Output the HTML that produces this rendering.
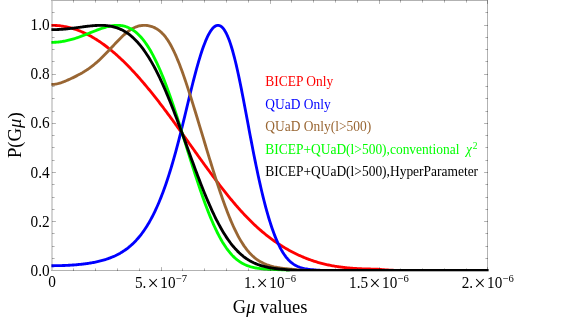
<!DOCTYPE html>
<html><head><meta charset="utf-8"><title>P(G&mu;) plot</title>
<style>
html,body{margin:0;padding:0;background:#fff;}
body{width:581px;height:322px;position:relative;overflow:hidden;font-family:"Liberation Serif",serif;}
</style></head><body>
<svg width="581" height="322" viewBox="0 0 581 322" style="position:absolute;left:0;top:0;will-change:transform">
<rect x="0" y="0" width="581" height="322" fill="#fff"/>
<defs><clipPath id="c"><rect x="51.40" y="0" width="437.20" height="271"/></clipPath><clipPath id="c2"><rect x="51.40" y="0" width="437.20" height="271.4"/></clipPath></defs>
<g fill="none" stroke-width="2.85" stroke-linejoin="round" stroke-linecap="butt">
<path clip-path="url(#c)" d="M49.82,25.38 L50.81,25.36 L51.80,25.35 L52.80,25.36 L53.79,25.38 L54.78,25.41 L55.77,25.46 L56.76,25.52 L57.75,25.60 L58.75,25.69 L59.74,25.79 L60.73,25.91 L61.72,26.05 L62.71,26.20 L63.71,26.36 L64.70,26.54 L65.69,26.73 L66.68,26.93 L67.67,27.15 L68.66,27.39 L69.66,27.63 L70.65,27.90 L71.64,28.17 L72.63,28.46 L73.62,28.77 L74.62,29.08 L75.61,29.42 L76.60,29.76 L77.59,30.12 L78.58,30.50 L79.57,30.89 L80.57,31.29 L81.56,31.70 L82.55,32.13 L83.54,32.58 L84.53,33.03 L85.52,33.51 L86.52,33.99 L87.51,34.49 L88.50,35.00 L89.49,35.53 L90.48,36.07 L91.48,36.62 L92.47,37.18 L93.46,37.76 L94.45,38.36 L95.44,38.96 L96.43,39.58 L97.43,40.21 L98.42,40.86 L99.41,41.52 L100.40,42.19 L101.39,42.88 L102.39,43.57 L103.38,44.28 L104.37,45.01 L105.36,45.74 L106.35,46.49 L107.34,47.25 L108.34,48.03 L109.33,48.81 L110.32,49.61 L111.31,50.42 L112.30,51.25 L113.30,52.08 L114.29,52.93 L115.28,53.79 L116.27,54.66 L117.26,55.55 L118.25,56.44 L119.25,57.35 L120.24,58.27 L121.23,59.20 L122.22,60.14 L123.21,61.09 L124.21,62.06 L125.20,63.03 L126.19,64.02 L127.18,65.02 L128.17,66.02 L129.16,67.04 L130.16,68.07 L131.15,69.11 L132.14,70.16 L133.13,71.22 L134.12,72.30 L135.11,73.38 L136.11,74.47 L137.10,75.57 L138.09,76.68 L139.08,77.80 L140.07,78.93 L141.07,80.07 L142.06,81.21 L143.05,82.37 L144.04,83.54 L145.03,84.71 L146.02,85.90 L147.02,87.09 L148.01,88.29 L149.00,89.49 L149.99,90.71 L150.98,91.94 L151.98,93.17 L152.97,94.41 L153.96,95.65 L154.95,96.91 L155.94,98.17 L156.93,99.44 L157.93,100.71 L158.92,101.99 L159.91,103.28 L160.90,104.57 L161.89,105.87 L162.89,107.18 L163.88,108.49 L164.87,109.81 L165.86,111.13 L166.85,112.46 L167.84,113.79 L168.84,115.13 L169.83,116.47 L170.82,117.82 L171.81,119.17 L172.80,120.52 L173.80,121.88 L174.79,123.24 L175.78,124.61 L176.77,125.97 L177.76,127.35 L178.75,128.72 L179.75,130.10 L180.74,131.48 L181.73,132.86 L182.72,134.24 L183.71,135.63 L184.71,137.01 L185.70,138.40 L186.69,139.79 L187.68,141.18 L188.67,142.57 L189.66,143.96 L190.66,145.35 L191.65,146.74 L192.64,148.13 L193.63,149.52 L194.62,150.91 L195.61,152.30 L196.61,153.69 L197.60,155.07 L198.59,156.46 L199.58,157.84 L200.57,159.22 L201.57,160.60 L202.56,161.97 L203.55,163.35 L204.54,164.72 L205.53,166.08 L206.52,167.45 L207.52,168.81 L208.51,170.16 L209.50,171.52 L210.49,172.86 L211.48,174.21 L212.48,175.54 L213.47,176.88 L214.46,178.21 L215.45,179.53 L216.44,180.84 L217.43,182.16 L218.43,183.46 L219.42,184.76 L220.41,186.05 L221.40,187.33 L222.39,188.61 L223.39,189.88 L224.38,191.14 L225.37,192.40 L226.36,193.64 L227.35,194.88 L228.34,196.11 L229.34,197.33 L230.33,198.54 L231.32,199.74 L232.31,200.94 L233.30,202.12 L234.30,203.29 L235.29,204.46 L236.28,205.61 L237.27,206.75 L238.26,207.89 L239.25,209.01 L240.25,210.12 L241.24,211.22 L242.23,212.30 L243.22,213.38 L244.21,214.45 L245.20,215.50 L246.20,216.54 L247.19,217.57 L248.18,218.59 L249.17,219.59 L250.16,220.59 L251.16,221.57 L252.15,222.54 L253.14,223.49 L254.13,224.44 L255.12,225.37 L256.11,226.29 L257.11,227.20 L258.10,228.09 L259.09,228.97 L260.08,229.84 L261.07,230.70 L262.07,231.55 L263.06,232.38 L264.05,233.20 L265.04,234.01 L266.03,234.81 L267.02,235.60 L268.02,236.37 L269.01,237.14 L270.00,237.89 L270.99,238.63 L271.98,239.36 L272.98,240.07 L273.97,240.78 L274.96,241.48 L275.95,242.16 L276.94,242.84 L277.93,243.50 L278.93,244.15 L279.92,244.80 L280.91,245.43 L281.90,246.05 L282.89,246.67 L283.89,247.27 L284.88,247.86 L285.87,248.45 L286.86,249.02 L287.85,249.58 L288.84,250.14 L289.84,250.68 L290.83,251.22 L291.82,251.75 L292.81,252.26 L293.80,252.77 L294.80,253.27 L295.79,253.76 L296.78,254.24 L297.77,254.71 L298.76,255.17 L299.75,255.63 L300.75,256.07 L301.74,256.51 L302.73,256.93 L303.72,257.35 L304.71,257.76 L305.70,258.16 L306.70,258.55 L307.69,258.93 L308.68,259.30 L309.67,259.67 L310.66,260.02 L311.66,260.37 L312.65,260.71 L313.64,261.04 L314.63,261.36 L315.62,261.67 L316.61,261.98 L317.61,262.27 L318.60,262.56 L319.59,262.84 L320.58,263.11 L321.57,263.38 L322.57,263.63 L323.56,263.88 L324.55,264.12 L325.54,264.36 L326.53,264.58 L327.52,264.80 L328.52,265.01 L329.51,265.21 L330.50,265.41 L331.49,265.60 L332.48,265.78 L333.48,265.96 L334.47,266.13 L335.46,266.29 L336.45,266.45 L337.44,266.60 L338.43,266.74 L339.43,266.88 L340.42,267.02 L341.41,267.15 L342.40,267.27 L343.39,267.39 L344.39,267.50 L345.38,267.61 L346.37,267.71 L347.36,267.81 L348.35,267.90 L349.34,267.99 L350.34,268.07 L351.33,268.15 L352.32,268.23 L353.31,268.30 L354.30,268.37 L355.29,268.44 L356.29,268.50 L357.28,268.56 L358.27,268.61 L359.26,268.66 L360.25,268.71 L361.25,268.76 L362.24,268.80 L363.23,268.84 L364.22,268.87 L365.21,268.91 L366.20,268.94 L367.20,268.96 L368.19,268.99 L369.18,269.01 L370.17,269.03 L371.16,269.05 L372.16,269.06 L373.15,269.07 L374.14,269.08 L375.13,269.08 L376.12,269.09 L377.11,269.16 L378.11,269.23 L379.10,269.31 L380.09,269.39 L381.08,269.48 L382.07,269.56 L383.07,269.65 L384.06,269.73 L385.05,269.81 L386.04,269.89 L387.03,269.96 L388.02,270.02 L389.02,270.08 L390.01,270.14 L391.00,270.18 L391.99,270.23 L392.98,270.26 L393.98,270.30 L394.97,270.45" stroke="#ff0000"/>
<path clip-path="url(#c)" d="M49.82,265.71 L50.81,265.71 L51.80,265.71 L52.80,265.71 L53.79,265.71 L54.78,265.70 L55.77,265.69 L56.76,265.68 L57.75,265.66 L58.75,265.64 L59.74,265.62 L60.73,265.59 L61.72,265.57 L62.71,265.53 L63.71,265.50 L64.70,265.46 L65.69,265.42 L66.68,265.38 L67.67,265.33 L68.66,265.28 L69.66,265.22 L70.65,265.16 L71.64,265.10 L72.63,265.03 L73.62,264.96 L74.62,264.89 L75.61,264.81 L76.60,264.72 L77.59,264.64 L78.58,264.54 L79.57,264.45 L80.57,264.35 L81.56,264.24 L82.55,264.13 L83.54,264.01 L84.53,263.89 L85.52,263.76 L86.52,263.62 L87.51,263.48 L88.50,263.33 L89.49,263.18 L90.48,263.02 L91.48,262.85 L92.47,262.67 L93.46,262.49 L94.45,262.30 L95.44,262.10 L96.43,261.89 L97.43,261.67 L98.42,261.45 L99.41,261.21 L100.40,260.96 L101.39,260.71 L102.39,260.44 L103.38,260.16 L104.37,259.87 L105.36,259.56 L106.35,259.24 L107.34,258.91 L108.34,258.57 L109.33,258.21 L110.32,257.84 L111.31,257.45 L112.30,257.04 L113.30,256.62 L114.29,256.18 L115.28,255.73 L116.27,255.25 L117.26,254.75 L118.25,254.24 L119.25,253.70 L120.24,253.14 L121.23,252.55 L122.22,251.95 L123.21,251.32 L124.21,250.66 L125.20,249.98 L126.19,249.27 L127.18,248.53 L128.17,247.76 L129.16,246.96 L130.16,246.13 L131.15,245.26 L132.14,244.36 L133.13,243.43 L134.12,242.46 L135.11,241.45 L136.11,240.41 L137.10,239.32 L138.09,238.19 L139.08,237.02 L140.07,235.80 L141.07,234.54 L142.06,233.24 L143.05,231.88 L144.04,230.47 L145.03,229.02 L146.02,227.51 L147.02,225.94 L148.01,224.32 L149.00,222.65 L149.99,220.91 L150.98,219.12 L151.98,217.26 L152.97,215.35 L153.96,213.36 L154.95,211.32 L155.94,209.20 L156.93,207.02 L157.93,204.77 L158.92,202.45 L159.91,200.06 L160.90,197.60 L161.89,195.06 L162.89,192.45 L163.88,189.76 L164.87,187.00 L165.86,184.16 L166.85,181.25 L167.84,178.25 L168.84,175.18 L169.83,172.03 L170.82,168.81 L171.81,165.51 L172.80,162.12 L173.80,158.67 L174.79,155.14 L175.78,151.53 L176.77,147.86 L177.76,144.11 L178.75,140.30 L179.75,136.43 L180.74,132.50 L181.73,128.52 L182.72,124.49 L183.71,120.43 L184.71,116.34 L185.70,112.23 L186.69,108.11 L187.68,103.99 L188.67,99.88 L189.66,95.79 L190.66,91.74 L191.65,87.72 L192.64,83.76 L193.63,79.86 L194.62,76.03 L195.61,72.28 L196.61,68.63 L197.60,65.07 L198.59,61.63 L199.58,58.29 L200.57,55.09 L201.57,52.01 L202.56,49.08 L203.55,46.28 L204.54,43.64 L205.53,41.16 L206.52,38.84 L207.52,36.68 L208.51,34.70 L209.50,32.90 L210.49,31.28 L211.48,29.84 L212.48,28.59 L213.47,27.54 L214.46,26.69 L215.45,26.04 L216.44,25.60 L217.43,25.37 L218.43,25.35 L219.42,25.55 L220.41,25.98 L221.40,26.64 L222.39,27.53 L223.39,28.66 L224.38,30.03 L225.37,31.64 L226.36,33.49 L227.35,35.60 L228.34,37.94 L229.34,40.54 L230.33,43.37 L231.32,46.44 L232.31,49.74 L233.30,53.28 L234.30,57.02 L235.29,60.98 L236.28,65.13 L237.27,69.47 L238.26,73.98 L239.25,78.65 L240.25,83.45 L241.24,88.38 L242.23,93.41 L243.22,98.53 L244.21,103.73 L245.20,108.97 L246.20,114.26 L247.19,119.56 L248.18,124.86 L249.17,130.16 L250.16,135.42 L251.16,140.64 L252.15,145.82 L253.14,150.92 L254.13,155.96 L255.12,160.90 L256.11,165.76 L257.11,170.53 L258.10,175.19 L259.09,179.74 L260.08,184.18 L261.07,188.50 L262.07,192.71 L263.06,196.80 L264.05,200.76 L265.04,204.61 L266.03,208.32 L267.02,211.92 L268.02,215.38 L269.01,218.73 L270.00,221.94 L270.99,225.03 L271.98,227.99 L272.98,230.83 L273.97,233.54 L274.96,236.12 L275.95,238.58 L276.94,240.92 L277.93,243.14 L278.93,245.24 L279.92,247.22 L280.91,249.09 L281.90,250.84 L282.89,252.48 L283.89,254.02 L284.88,255.46 L285.87,256.79 L286.86,258.03 L287.85,259.18 L288.84,260.24 L289.84,261.21 L290.83,262.11 L291.82,262.93 L292.81,263.68 L293.80,264.36 L294.80,264.98 L295.79,265.54 L296.78,266.05 L297.77,266.51 L298.76,266.93 L299.75,267.30 L300.75,267.63 L301.74,267.93 L302.73,268.20 L303.72,268.44 L304.71,268.65 L305.70,268.83 L306.70,269.00 L307.69,269.15 L308.68,269.29 L309.67,269.43 L310.66,269.55 L311.66,269.67 L312.65,269.78 L313.64,269.88 L314.63,269.96 L315.62,270.04 L316.61,270.11 L317.61,270.17 L318.60,270.22 L319.59,270.26 L320.58,270.30 L321.57,270.45" stroke="#0000ff"/>
<path clip-path="url(#c)" d="M49.82,84.23 L50.81,84.32 L51.80,84.36 L52.80,84.36 L53.79,84.31 L54.78,84.21 L55.77,84.08 L56.76,83.90 L57.75,83.68 L58.75,83.43 L59.74,83.14 L60.73,82.83 L61.72,82.49 L62.71,82.13 L63.71,81.75 L64.70,81.36 L65.69,80.95 L66.68,80.54 L67.67,80.11 L68.66,79.67 L69.66,79.22 L70.65,78.77 L71.64,78.31 L72.63,77.84 L73.62,77.36 L74.62,76.87 L75.61,76.38 L76.60,75.88 L77.59,75.36 L78.58,74.84 L79.57,74.30 L80.57,73.76 L81.56,73.19 L82.55,72.62 L83.54,72.02 L84.53,71.41 L85.52,70.79 L86.52,70.14 L87.51,69.48 L88.50,68.80 L89.49,68.10 L90.48,67.37 L91.48,66.63 L92.47,65.87 L93.46,65.08 L94.45,64.27 L95.44,63.45 L96.43,62.60 L97.43,61.73 L98.42,60.84 L99.41,59.93 L100.40,59.00 L101.39,58.05 L102.39,57.09 L103.38,56.11 L104.37,55.11 L105.36,54.10 L106.35,53.07 L107.34,52.04 L108.34,50.99 L109.33,49.93 L110.32,48.87 L111.31,47.81 L112.30,46.74 L113.30,45.67 L114.29,44.61 L115.28,43.55 L116.27,42.50 L117.26,41.45 L118.25,40.42 L119.25,39.41 L120.24,38.41 L121.23,37.44 L122.22,36.49 L123.21,35.56 L124.21,34.66 L125.20,33.80 L126.19,32.96 L127.18,32.16 L128.17,31.40 L129.16,30.68 L130.16,30.00 L131.15,29.37 L132.14,28.77 L133.13,28.23 L134.12,27.73 L135.11,27.28 L136.11,26.88 L137.10,26.52 L138.09,26.21 L139.08,25.95 L140.07,25.74 L141.07,25.58 L142.06,25.46 L143.05,25.38 L144.04,25.35 L145.03,25.36 L146.02,25.42 L147.02,25.51 L148.01,25.65 L149.00,25.83 L149.99,26.06 L150.98,26.33 L151.98,26.64 L152.97,27.00 L153.96,27.41 L154.95,27.87 L155.94,28.39 L156.93,28.97 L157.93,29.61 L158.92,30.32 L159.91,31.10 L160.90,31.96 L161.89,32.89 L162.89,33.91 L163.88,35.01 L164.87,36.20 L165.86,37.48 L166.85,38.85 L167.84,40.32 L168.84,41.88 L169.83,43.54 L170.82,45.29 L171.81,47.14 L172.80,49.08 L173.80,51.11 L174.79,53.23 L175.78,55.44 L176.77,57.74 L177.76,60.11 L178.75,62.56 L179.75,65.09 L180.74,67.69 L181.73,70.36 L182.72,73.09 L183.71,75.89 L184.71,78.74 L185.70,81.64 L186.69,84.59 L187.68,87.59 L188.67,90.62 L189.66,93.70 L190.66,96.81 L191.65,99.95 L192.64,103.12 L193.63,106.31 L194.62,109.53 L195.61,112.76 L196.61,116.01 L197.60,119.27 L198.59,122.54 L199.58,125.81 L200.57,129.10 L201.57,132.38 L202.56,135.67 L203.55,138.96 L204.54,142.25 L205.53,145.53 L206.52,148.80 L207.52,152.07 L208.51,155.32 L209.50,158.56 L210.49,161.79 L211.48,165.00 L212.48,168.18 L213.47,171.35 L214.46,174.49 L215.45,177.61 L216.44,180.69 L217.43,183.74 L218.43,186.76 L219.42,189.74 L220.41,192.68 L221.40,195.58 L222.39,198.44 L223.39,201.24 L224.38,204.00 L225.37,206.70 L226.36,209.35 L227.35,211.95 L228.34,214.49 L229.34,216.96 L230.33,219.37 L231.32,221.72 L232.31,224.01 L233.30,226.23 L234.30,228.38 L235.29,230.46 L236.28,232.48 L237.27,234.42 L238.26,236.30 L239.25,238.10 L240.25,239.84 L241.24,241.50 L242.23,243.10 L243.22,244.63 L244.21,246.09 L245.20,247.48 L246.20,248.81 L247.19,250.08 L248.18,251.28 L249.17,252.42 L250.16,253.50 L251.16,254.53 L252.15,255.50 L253.14,256.42 L254.13,257.28 L255.12,258.10 L256.11,258.86 L257.11,259.59 L258.10,260.27 L259.09,260.91 L260.08,261.51 L261.07,262.07 L262.07,262.59 L263.06,263.09 L264.05,263.55 L265.04,263.98 L266.03,264.39 L267.02,264.77 L268.02,265.12 L269.01,265.45 L270.00,265.76 L270.99,266.05 L271.98,266.32 L272.98,266.57 L273.97,266.81 L274.96,267.02 L275.95,267.23 L276.94,267.42 L277.93,267.60 L278.93,267.77 L279.92,267.92 L280.91,268.07 L281.90,268.21 L282.89,268.34 L283.89,268.46 L284.88,268.57 L285.87,268.67 L286.86,268.77 L287.85,268.87 L288.84,268.96 L289.84,269.06 L290.83,269.16 L291.82,269.27 L292.81,269.37 L293.80,269.47 L294.80,269.58 L295.79,269.67 L296.78,269.77 L297.77,269.85 L298.76,269.93 L299.75,270.00 L300.75,270.07 L301.74,270.13 L302.73,270.18 L303.72,270.23 L304.71,270.26 L305.70,270.30 L306.70,270.45" stroke="#996633"/>
<path clip-path="url(#c2)" d="M49.82,42.29 L50.81,42.32 L51.80,42.33 L52.80,42.32 L53.79,42.30 L54.78,42.26 L55.77,42.21 L56.76,42.15 L57.75,42.07 L58.75,41.97 L59.74,41.86 L60.73,41.73 L61.72,41.59 L62.71,41.44 L63.71,41.27 L64.70,41.09 L65.69,40.89 L66.68,40.68 L67.67,40.46 L68.66,40.22 L69.66,39.97 L70.65,39.71 L71.64,39.44 L72.63,39.16 L73.62,38.86 L74.62,38.56 L75.61,38.24 L76.60,37.91 L77.59,37.58 L78.58,37.24 L79.57,36.89 L80.57,36.53 L81.56,36.16 L82.55,35.79 L83.54,35.41 L84.53,35.03 L85.52,34.64 L86.52,34.25 L87.51,33.86 L88.50,33.47 L89.49,33.07 L90.48,32.67 L91.48,32.27 L92.47,31.88 L93.46,31.48 L94.45,31.09 L95.44,30.71 L96.43,30.32 L97.43,29.95 L98.42,29.58 L99.41,29.22 L100.40,28.86 L101.39,28.52 L102.39,28.19 L103.38,27.87 L104.37,27.56 L105.36,27.27 L106.35,26.99 L107.34,26.73 L108.34,26.49 L109.33,26.27 L110.32,26.07 L111.31,25.89 L112.30,25.74 L113.30,25.60 L114.29,25.50 L115.28,25.42 L116.27,25.37 L117.26,25.35 L118.25,25.36 L119.25,25.41 L120.24,25.48 L121.23,25.60 L122.22,25.75 L123.21,25.93 L124.21,26.16 L125.20,26.43 L126.19,26.74 L127.18,27.09 L128.17,27.49 L129.16,27.94 L130.16,28.43 L131.15,28.97 L132.14,29.56 L133.13,30.20 L134.12,30.90 L135.11,31.64 L136.11,32.44 L137.10,33.30 L138.09,34.21 L139.08,35.19 L140.07,36.21 L141.07,37.30 L142.06,38.45 L143.05,39.66 L144.04,40.93 L145.03,42.26 L146.02,43.65 L147.02,45.11 L148.01,46.62 L149.00,48.21 L149.99,49.85 L150.98,51.56 L151.98,53.33 L152.97,55.17 L153.96,57.06 L154.95,59.02 L155.94,61.05 L156.93,63.13 L157.93,65.28 L158.92,67.48 L159.91,69.75 L160.90,72.08 L161.89,74.46 L162.89,76.90 L163.88,79.39 L164.87,81.94 L165.86,84.54 L166.85,87.19 L167.84,89.89 L168.84,92.64 L169.83,95.43 L170.82,98.26 L171.81,101.14 L172.80,104.06 L173.80,107.01 L174.79,109.99 L175.78,113.01 L176.77,116.06 L177.76,119.14 L178.75,122.23 L179.75,125.35 L180.74,128.49 L181.73,131.65 L182.72,134.81 L183.71,137.99 L184.71,141.17 L185.70,144.36 L186.69,147.55 L187.68,150.74 L188.67,153.92 L189.66,157.10 L190.66,160.26 L191.65,163.41 L192.64,166.54 L193.63,169.66 L194.62,172.75 L195.61,175.82 L196.61,178.87 L197.60,181.88 L198.59,184.86 L199.58,187.81 L200.57,190.72 L201.57,193.59 L202.56,196.42 L203.55,199.20 L204.54,201.95 L205.53,204.64 L206.52,207.29 L207.52,209.88 L208.51,212.42 L209.50,214.91 L210.49,217.35 L211.48,219.73 L212.48,222.05 L213.47,224.31 L214.46,226.51 L215.45,228.65 L216.44,230.73 L217.43,232.75 L218.43,234.70 L219.42,236.59 L220.41,238.42 L221.40,240.18 L222.39,241.88 L223.39,243.51 L224.38,245.08 L225.37,246.59 L226.36,248.03 L227.35,249.40 L228.34,250.72 L229.34,251.97 L230.33,253.16 L231.32,254.30 L232.31,255.37 L233.30,256.39 L234.30,257.35 L235.29,258.25 L236.28,259.11 L237.27,259.91 L238.26,260.67 L239.25,261.37 L240.25,262.03 L241.24,262.65 L242.23,263.23 L243.22,263.77 L244.21,264.27 L245.20,264.73 L246.20,265.16 L247.19,265.56 L248.18,265.93 L249.17,266.26 L250.16,266.58 L251.16,266.87 L252.15,267.13 L253.14,267.37 L254.13,267.59 L255.12,267.80 L256.11,267.98 L257.11,268.15 L258.10,268.31 L259.09,268.45 L260.08,268.58 L261.07,268.69 L262.07,268.79 L263.06,268.89 L264.05,268.97 L265.04,269.05 L266.03,269.11 L267.02,269.17 L268.02,269.22 L269.01,269.26 L270.00,269.30 L270.99,269.33 L271.98,269.35 L272.98,269.40 L273.97,269.46 L274.96,269.52 L275.95,269.59 L276.94,269.66 L277.93,269.73 L278.93,269.80 L279.92,269.86 L280.91,269.93 L281.90,269.99 L282.89,270.05 L283.89,270.10 L284.88,270.15 L285.87,270.19 L286.86,270.23 L287.85,270.27 L288.84,270.30 L289.84,270.45" stroke="#00ff00"/>
<path clip-path="url(#c)" d="M49.82,29.62 L50.81,29.63 L51.80,29.63 L52.80,29.63 L53.79,29.62 L54.78,29.60 L55.77,29.58 L56.76,29.55 L57.75,29.51 L58.75,29.47 L59.74,29.41 L60.73,29.36 L61.72,29.29 L62.71,29.22 L63.71,29.14 L64.70,29.06 L65.69,28.97 L66.68,28.88 L67.67,28.78 L68.66,28.67 L69.66,28.57 L70.65,28.45 L71.64,28.34 L72.63,28.22 L73.62,28.09 L74.62,27.97 L75.61,27.84 L76.60,27.71 L77.59,27.58 L78.58,27.44 L79.57,27.31 L80.57,27.18 L81.56,27.04 L82.55,26.91 L83.54,26.78 L84.53,26.65 L85.52,26.52 L86.52,26.40 L87.51,26.28 L88.50,26.16 L89.49,26.05 L90.48,25.94 L91.48,25.85 L92.47,25.75 L93.46,25.67 L94.45,25.59 L95.44,25.52 L96.43,25.47 L97.43,25.42 L98.42,25.38 L99.41,25.36 L100.40,25.35 L101.39,25.35 L102.39,25.37 L103.38,25.40 L104.37,25.45 L105.36,25.52 L106.35,25.60 L107.34,25.70 L108.34,25.82 L109.33,25.97 L110.32,26.13 L111.31,26.32 L112.30,26.52 L113.30,26.76 L114.29,27.01 L115.28,27.30 L116.27,27.61 L117.26,27.94 L118.25,28.31 L119.25,28.70 L120.24,29.13 L121.23,29.58 L122.22,30.07 L123.21,30.59 L124.21,31.14 L125.20,31.73 L126.19,32.35 L127.18,33.01 L128.17,33.70 L129.16,34.43 L130.16,35.20 L131.15,36.01 L132.14,36.86 L133.13,37.75 L134.12,38.68 L135.11,39.65 L136.11,40.66 L137.10,41.72 L138.09,42.81 L139.08,43.95 L140.07,45.14 L141.07,46.37 L142.06,47.64 L143.05,48.96 L144.04,50.32 L145.03,51.73 L146.02,53.18 L147.02,54.68 L148.01,56.22 L149.00,57.81 L149.99,59.45 L150.98,61.13 L151.98,62.85 L152.97,64.62 L153.96,66.43 L154.95,68.29 L155.94,70.19 L156.93,72.14 L157.93,74.13 L158.92,76.16 L159.91,78.23 L160.90,80.34 L161.89,82.50 L162.89,84.69 L163.88,86.92 L164.87,89.18 L165.86,91.49 L166.85,93.82 L167.84,96.20 L168.84,98.60 L169.83,101.04 L170.82,103.50 L171.81,106.00 L172.80,108.52 L173.80,111.07 L174.79,113.64 L175.78,116.24 L176.77,118.85 L177.76,121.49 L178.75,124.14 L179.75,126.81 L180.74,129.49 L181.73,132.19 L182.72,134.89 L183.71,137.61 L184.71,140.33 L185.70,143.06 L186.69,145.78 L187.68,148.51 L188.67,151.24 L189.66,153.97 L190.66,156.69 L191.65,159.40 L192.64,162.11 L193.63,164.80 L194.62,167.48 L195.61,170.15 L196.61,172.80 L197.60,175.43 L198.59,178.04 L199.58,180.63 L200.57,183.20 L201.57,185.74 L202.56,188.25 L203.55,190.73 L204.54,193.19 L205.53,195.61 L206.52,197.99 L207.52,200.35 L208.51,202.66 L209.50,204.94 L210.49,207.18 L211.48,209.38 L212.48,211.55 L213.47,213.66 L214.46,215.74 L215.45,217.77 L216.44,219.76 L217.43,221.70 L218.43,223.60 L219.42,225.45 L220.41,227.26 L221.40,229.02 L222.39,230.73 L223.39,232.39 L224.38,234.01 L225.37,235.58 L226.36,237.11 L227.35,238.59 L228.34,240.02 L229.34,241.40 L230.33,242.74 L231.32,244.04 L232.31,245.29 L233.30,246.49 L234.30,247.65 L235.29,248.77 L236.28,249.84 L237.27,250.88 L238.26,251.87 L239.25,252.83 L240.25,253.74 L241.24,254.62 L242.23,255.45 L243.22,256.26 L244.21,257.02 L245.20,257.76 L246.20,258.46 L247.19,259.12 L248.18,259.76 L249.17,260.36 L250.16,260.94 L251.16,261.49 L252.15,262.01 L253.14,262.50 L254.13,262.97 L255.12,263.41 L256.11,263.83 L257.11,264.23 L258.10,264.61 L259.09,264.96 L260.08,265.30 L261.07,265.62 L262.07,265.92 L263.06,266.20 L264.05,266.47 L265.04,266.72 L266.03,266.95 L267.02,267.17 L268.02,267.38 L269.01,267.58 L270.00,267.76 L270.99,267.94 L271.98,268.10 L272.98,268.25 L273.97,268.39 L274.96,268.53 L275.95,268.65 L276.94,268.77 L277.93,268.88 L278.93,268.98 L279.92,269.08 L280.91,269.17 L281.90,269.26 L282.89,269.35 L283.89,269.44 L284.88,269.54 L285.87,269.63 L286.86,269.72 L287.85,269.80 L288.84,269.88 L289.84,269.96 L290.83,270.02 L291.82,270.09 L292.81,270.14 L293.80,270.19 L294.80,270.23 L295.79,270.27 L296.78,270.30 L297.77,270.45 L490.18,270.45" stroke="#000000"/>
</g>
<rect x="286" y="271" width="202.6" height="1" fill="#000" fill-opacity="0.3"/>
<g fill="#000"><rect x="51.00" y="0.00" width="437.00" height="1.00" fill-opacity="0.30"/><rect x="51.00" y="270.00" width="437.00" height="1.00" fill-opacity="0.30"/><rect x="487.00" y="1.00" width="1.00" height="269.00" fill-opacity="0.30"/><rect x="51.00" y="1.00" width="2.00" height="269.00" fill-opacity="0.17"/><rect x="73.00" y="0.00" width="1.00" height="2.60" fill-opacity="0.30"/><rect x="73.00" y="268.40" width="1.00" height="2.60" fill-opacity="0.30"/><rect x="95.00" y="0.00" width="1.00" height="2.60" fill-opacity="0.30"/><rect x="95.00" y="268.40" width="1.00" height="2.60" fill-opacity="0.30"/><rect x="117.00" y="0.00" width="1.00" height="2.60" fill-opacity="0.30"/><rect x="117.00" y="268.40" width="1.00" height="2.60" fill-opacity="0.30"/><rect x="139.00" y="0.00" width="1.00" height="2.60" fill-opacity="0.30"/><rect x="139.00" y="268.40" width="1.00" height="2.60" fill-opacity="0.30"/><rect x="161.00" y="0.00" width="1.00" height="3.90" fill-opacity="0.30"/><rect x="161.00" y="267.10" width="1.00" height="3.90" fill-opacity="0.30"/><rect x="182.00" y="0.00" width="1.00" height="2.60" fill-opacity="0.30"/><rect x="182.00" y="268.40" width="1.00" height="2.60" fill-opacity="0.30"/><rect x="204.00" y="0.00" width="1.00" height="2.60" fill-opacity="0.30"/><rect x="204.00" y="268.40" width="1.00" height="2.60" fill-opacity="0.30"/><rect x="226.00" y="0.00" width="1.00" height="2.60" fill-opacity="0.30"/><rect x="226.00" y="268.40" width="1.00" height="2.60" fill-opacity="0.30"/><rect x="248.00" y="0.00" width="1.00" height="2.60" fill-opacity="0.30"/><rect x="248.00" y="268.40" width="1.00" height="2.60" fill-opacity="0.30"/><rect x="270.00" y="0.00" width="1.00" height="3.90" fill-opacity="0.30"/><rect x="270.00" y="267.10" width="1.00" height="3.90" fill-opacity="0.30"/><rect x="291.00" y="0.00" width="1.00" height="2.60" fill-opacity="0.30"/><rect x="291.00" y="268.40" width="1.00" height="2.60" fill-opacity="0.30"/><rect x="313.00" y="0.00" width="1.00" height="2.60" fill-opacity="0.30"/><rect x="313.00" y="268.40" width="1.00" height="2.60" fill-opacity="0.30"/><rect x="335.00" y="0.00" width="1.00" height="2.60" fill-opacity="0.30"/><rect x="335.00" y="268.40" width="1.00" height="2.60" fill-opacity="0.30"/><rect x="357.00" y="0.00" width="1.00" height="2.60" fill-opacity="0.30"/><rect x="357.00" y="268.40" width="1.00" height="2.60" fill-opacity="0.30"/><rect x="379.00" y="0.00" width="1.00" height="3.90" fill-opacity="0.30"/><rect x="379.00" y="267.10" width="1.00" height="3.90" fill-opacity="0.30"/><rect x="400.00" y="0.00" width="1.00" height="2.60" fill-opacity="0.30"/><rect x="400.00" y="268.40" width="1.00" height="2.60" fill-opacity="0.30"/><rect x="422.00" y="0.00" width="1.00" height="2.60" fill-opacity="0.30"/><rect x="422.00" y="268.40" width="1.00" height="2.60" fill-opacity="0.30"/><rect x="444.00" y="0.00" width="1.00" height="2.60" fill-opacity="0.30"/><rect x="444.00" y="268.40" width="1.00" height="2.60" fill-opacity="0.30"/><rect x="466.00" y="0.00" width="1.00" height="2.60" fill-opacity="0.30"/><rect x="466.00" y="268.40" width="1.00" height="2.60" fill-opacity="0.30"/><rect x="487.00" y="0.00" width="1.00" height="3.90" fill-opacity="0.30"/><rect x="487.00" y="267.10" width="1.00" height="3.90" fill-opacity="0.30"/><rect x="52.00" y="258.00" width="2.60" height="1.00" fill-opacity="0.30"/><rect x="485.40" y="258.00" width="2.60" height="1.00" fill-opacity="0.30"/><rect x="52.00" y="246.00" width="2.60" height="1.00" fill-opacity="0.30"/><rect x="485.40" y="246.00" width="2.60" height="1.00" fill-opacity="0.30"/><rect x="52.00" y="233.00" width="2.60" height="1.00" fill-opacity="0.30"/><rect x="485.40" y="233.00" width="2.60" height="1.00" fill-opacity="0.30"/><rect x="52.00" y="221.00" width="3.90" height="1.00" fill-opacity="0.30"/><rect x="484.10" y="221.00" width="3.90" height="1.00" fill-opacity="0.30"/><rect x="52.00" y="209.00" width="2.60" height="1.00" fill-opacity="0.30"/><rect x="485.40" y="209.00" width="2.60" height="1.00" fill-opacity="0.30"/><rect x="52.00" y="197.00" width="2.60" height="1.00" fill-opacity="0.30"/><rect x="485.40" y="197.00" width="2.60" height="1.00" fill-opacity="0.30"/><rect x="52.00" y="184.00" width="2.60" height="1.00" fill-opacity="0.30"/><rect x="485.40" y="184.00" width="2.60" height="1.00" fill-opacity="0.30"/><rect x="52.00" y="172.00" width="3.90" height="1.00" fill-opacity="0.30"/><rect x="484.10" y="172.00" width="3.90" height="1.00" fill-opacity="0.30"/><rect x="52.00" y="160.00" width="2.60" height="1.00" fill-opacity="0.30"/><rect x="485.40" y="160.00" width="2.60" height="1.00" fill-opacity="0.30"/><rect x="52.00" y="147.00" width="2.60" height="1.00" fill-opacity="0.30"/><rect x="485.40" y="147.00" width="2.60" height="1.00" fill-opacity="0.30"/><rect x="52.00" y="135.00" width="2.60" height="1.00" fill-opacity="0.30"/><rect x="485.40" y="135.00" width="2.60" height="1.00" fill-opacity="0.30"/><rect x="52.00" y="123.00" width="3.90" height="1.00" fill-opacity="0.30"/><rect x="484.10" y="123.00" width="3.90" height="1.00" fill-opacity="0.30"/><rect x="52.00" y="111.00" width="2.60" height="1.00" fill-opacity="0.30"/><rect x="485.40" y="111.00" width="2.60" height="1.00" fill-opacity="0.30"/><rect x="52.00" y="98.00" width="2.60" height="1.00" fill-opacity="0.30"/><rect x="485.40" y="98.00" width="2.60" height="1.00" fill-opacity="0.30"/><rect x="52.00" y="86.00" width="2.60" height="1.00" fill-opacity="0.30"/><rect x="485.40" y="86.00" width="2.60" height="1.00" fill-opacity="0.30"/><rect x="52.00" y="74.00" width="3.90" height="1.00" fill-opacity="0.30"/><rect x="484.10" y="74.00" width="3.90" height="1.00" fill-opacity="0.30"/><rect x="52.00" y="61.00" width="2.60" height="1.00" fill-opacity="0.30"/><rect x="485.40" y="61.00" width="2.60" height="1.00" fill-opacity="0.30"/><rect x="52.00" y="49.00" width="2.60" height="1.00" fill-opacity="0.30"/><rect x="485.40" y="49.00" width="2.60" height="1.00" fill-opacity="0.30"/><rect x="52.00" y="37.00" width="2.60" height="1.00" fill-opacity="0.30"/><rect x="485.40" y="37.00" width="2.60" height="1.00" fill-opacity="0.30"/><rect x="52.00" y="25.00" width="3.90" height="1.00" fill-opacity="0.30"/><rect x="484.10" y="25.00" width="3.90" height="1.00" fill-opacity="0.30"/><rect x="52.00" y="12.00" width="2.60" height="1.00" fill-opacity="0.30"/><rect x="485.40" y="12.00" width="2.60" height="1.00" fill-opacity="0.30"/></g>
<g font-family="'Liberation Serif', serif" fill="#000">
<text transform="translate(49.60,275.80) scale(1,1.07)" font-size="15.3" text-anchor="end">0.0</text>
<text transform="translate(49.60,226.68) scale(1,1.07)" font-size="15.3" text-anchor="end">0.2</text>
<text transform="translate(49.60,177.56) scale(1,1.07)" font-size="15.3" text-anchor="end">0.4</text>
<text transform="translate(49.60,128.44) scale(1,1.07)" font-size="15.3" text-anchor="end">0.6</text>
<text transform="translate(49.60,79.32) scale(1,1.07)" font-size="15.3" text-anchor="end">0.8</text>
<text transform="translate(49.60,30.20) scale(1,1.07)" font-size="15.3" text-anchor="end">1.0</text>
<text transform="translate(52.05,287.00) scale(1,1.07)" font-size="15.3" text-anchor="middle">0</text>
<text transform="translate(134.90,288.20) scale(1,1.07)" font-size="15.2" text-anchor="start">5.</text><text transform="translate(153.10,290.30) scale(1,1)" font-size="20" text-anchor="middle">×</text><text transform="translate(160.30,288.20) scale(1,1.07)" font-size="15.2" text-anchor="start">10</text><text transform="translate(175.80,282.20) scale(1,1.07)" font-size="10.6" text-anchor="start">−7</text>
<text transform="translate(243.90,288.20) scale(1,1.07)" font-size="15.2" text-anchor="start">1.</text><text transform="translate(262.10,290.30) scale(1,1)" font-size="20" text-anchor="middle">×</text><text transform="translate(269.30,288.20) scale(1,1.07)" font-size="15.2" text-anchor="start">10</text><text transform="translate(284.80,282.20) scale(1,1.07)" font-size="10.6" text-anchor="start">−6</text>
<text transform="translate(349.10,288.20) scale(1,1.07)" font-size="15.2" text-anchor="start">1.5</text><text transform="translate(374.90,290.30) scale(1,1)" font-size="20" text-anchor="middle">×</text><text transform="translate(382.10,288.20) scale(1,1.07)" font-size="15.2" text-anchor="start">10</text><text transform="translate(397.60,282.20) scale(1,1.07)" font-size="10.6" text-anchor="start">−6</text>
<text transform="translate(461.70,288.20) scale(1,1.07)" font-size="15.2" text-anchor="start">2.</text><text transform="translate(479.90,290.30) scale(1,1)" font-size="20" text-anchor="middle">×</text><text transform="translate(487.10,288.20) scale(1,1.07)" font-size="15.2" text-anchor="start">10</text><text transform="translate(502.60,282.20) scale(1,1.07)" font-size="10.6" text-anchor="start">−6</text>
<text x="270.1" y="312.8" font-size="18.5" text-anchor="middle">G<tspan font-style="italic">μ</tspan> values</text>
<text transform="translate(20.6,135.2) rotate(-90)" font-size="18.7" text-anchor="middle">P(G<tspan font-style="italic">μ</tspan>)</text>
<text transform="translate(265.30,86.40) scale(1,1.08)" font-size="13.47" fill="#ff0000">BICEP Only</text>
<text transform="translate(265.30,108.50) scale(1,1.08)" font-size="13.47" fill="#0000ff">QUaD Only</text>
<text transform="translate(265.30,130.80) scale(1,1.08)" font-size="13.47" fill="#996633">QUaD Only(l&gt;500)</text>
<text transform="translate(265.30,153.50) scale(1,1.08)" font-size="13.47" fill="#00ff00">BICEP+QUaD(l&gt;500),conventional <tspan font-style="italic" dx="3.2">χ</tspan><tspan font-size="9.5" dx="0.9" dy="-4.0">2</tspan></text>
<text transform="translate(265.30,175.60) scale(1,1.08)" font-size="13.47" fill="#000">BICEP+QUaD(l&gt;500),HyperParameter</text>
</g>
</svg>
</body></html>
